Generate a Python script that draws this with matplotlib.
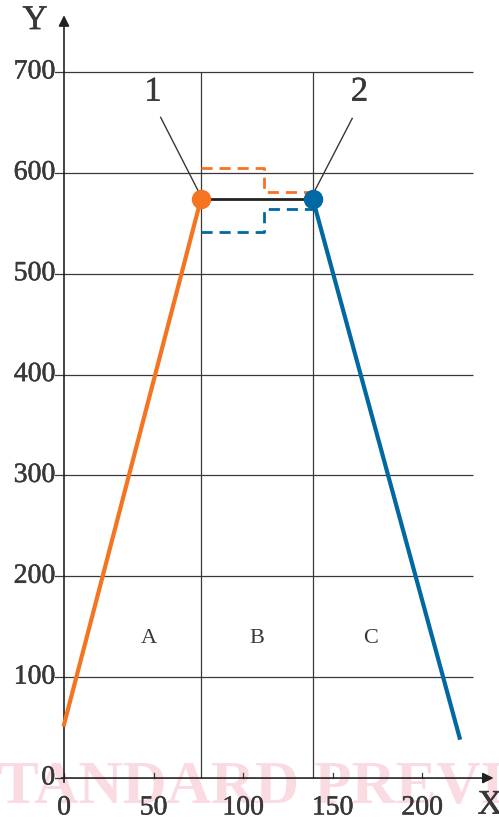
import matplotlib.pyplot as plt
import matplotlib.patheffects as pe

# values
y_ticks = [0, 100, 200, 300, 400, 500, 600, 700]
x_ticks = [0, 50, 100, 150, 200]

zone_edges = [76.5, 139]
zone_names = ['A', 'B', 'C']
zone_centres = [47.5, 107.8, 171.5]

orange_x = [0, 76.5]
orange_y = [53, 574]
blue_x = [139, 221]
blue_y = [574, 40]
flat_x = [76.5, 139]
flat_y = [574, 574]

orange_dash_x = [76.5, 112, 112, 139]
orange_dash_y = [605, 605, 581, 581]
blue_dash_x = [76.5, 112, 112, 139]
blue_dash_y = [541, 541, 564, 564]

orange = '#f47421'
blue = '#0068a2'
ink = '#383838'
serif = 'Liberation Serif'
# thicken the thin Times-like strokes a little
bold_ink = [pe.withStroke(linewidth=0.35, foreground=ink)]

fig = plt.figure(figsize=(4.99, 8.21), dpi=100)
ax = fig.add_axes([0, 0, 1, 1])
ax.set_xlim(-35.75, 243)
ax.set_ylim(-42.6, 771.4)
ax.axis('off')

# watermark
ax.text(-56, -24.8, 'STANDARD PREVIEW', fontsize=44, family=serif,
        fontweight='bold', color='#fadbe2', ha='left', va='baseline', zorder=0)

# grid
ax.hlines(y_ticks[1:], 0, 228.5, color=ink, lw=0.9, zorder=1)
ax.vlines(zone_edges, 0, 700, color=ink, lw=0.9, zorder=1)

# axes with arrows
ax.annotate('', xy=(241.5, 0), xytext=(-3, 0),
            arrowprops=dict(arrowstyle='-|>', color='#222222', lw=1.2,
                            mutation_scale=16), zorder=3)
ax.annotate('', xy=(0, 759), xytext=(0, -7),
            arrowprops=dict(arrowstyle='-|>', color='#222222', lw=1.2,
                            mutation_scale=16), zorder=3)

for t in y_ticks:
    ax.plot([-5, 0], [t, t], color=ink, lw=0.9)
    ax.text(-5, t, str(t), ha='right', va='center', fontsize=20,
            family=serif, color=ink, path_effects=bold_ink)
for t in x_ticks:
    ax.plot([t, t], [0, 5], color=ink, lw=0.9)
    ax.text(t, -29.7, str(t), ha='center', va='center', fontsize=20,
            family=serif, color=ink, path_effects=bold_ink)

ax.text(-16.2, 751, 'Y', ha='center', va='center', fontsize=25,
        family=serif, color=ink, path_effects=bold_ink)
ax.text(238, -27, 'X', ha='center', va='center', fontsize=25,
        family=serif, color=ink, path_effects=bold_ink)

# zone letters
for name, xc in zip(zone_names, zone_centres):
    ax.text(xc, 138, name, ha='center', va='center', fontsize=16,
            family=serif, color=ink)

# curves
ax.plot(orange_x, orange_y, color=orange, lw=3, zorder=4)
ax.plot(blue_x, blue_y, color=blue, lw=3, zorder=4)
ax.plot(flat_x, flat_y, color='#222222', lw=2, zorder=4)
ax.plot(orange_dash_x, orange_dash_y, color=orange, lw=2, ls=(0, (4, 2.5)), zorder=4)
ax.plot(blue_dash_x, blue_dash_y, color=blue, lw=2, ls=(0, (4, 2.5)), zorder=4)
ax.plot(orange_x[-1], orange_y[-1], 'o', color=orange, ms=13, zorder=5)
ax.plot(blue_x[0], blue_y[0], 'o', color=blue, ms=13, zorder=5)

# point labels with leader lines
ax.plot([54, 75], [655, 582], color=ink, lw=1, zorder=3)
ax.text(49.7, 680, '1', ha='center', va='center', fontsize=25,
        family=serif, color=ink, path_effects=bold_ink)
ax.plot([161, 140], [654, 582], color=ink, lw=1, zorder=3)
ax.text(165, 680, '2', ha='center', va='center', fontsize=25,
        family=serif, color=ink, path_effects=bold_ink)

plt.savefig('out.png', dpi=100)
